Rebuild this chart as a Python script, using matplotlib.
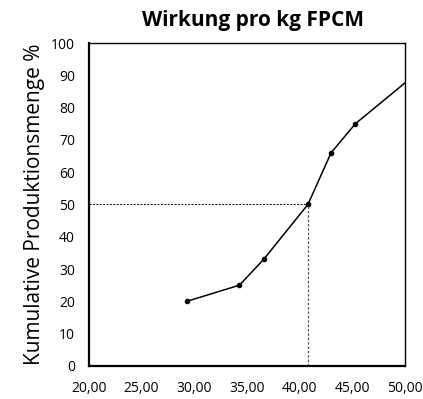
import matplotlib.pyplot as plt

# data
wirkung = [29.3, 34.3, 36.6, 40.8, 43.0, 45.3, 52.0]
kum_menge = [20, 25, 33, 50, 66, 75, 93]
median_x = 40.8
median_y = 50

x_ticks = [20, 25, 30, 35, 40, 45, 50]
y_ticks = [0, 10, 20, 30, 40, 50, 60, 70, 80, 90, 100]

plt.rcParams['font.family'] = ['Open Sans', 'DejaVu Sans']

fig = plt.figure(figsize=(4.23, 3.99), dpi=100)
ax = fig.add_axes([0.210, 0.083, 0.747, 0.809])

ax.plot(wirkung, kum_menge, color='black', linewidth=1.1, marker='o', markersize=3)

# Median guide lines
ax.plot([20, median_x], [median_y, median_y], color='black', linestyle=(0, (2, 1.5)), linewidth=0.7)
ax.plot([median_x, median_x], [0, median_y], color='#555555', linestyle=(0, (2, 1.5)), linewidth=0.9)

ax.set_xlim(20, 50)
ax.set_ylim(0, 100)
ax.set_xticks(x_ticks)
ax.set_xticklabels([f'{v:.2f}'.replace('.', ',') for v in x_ticks])
ax.set_yticks(y_ticks)
ax.tick_params(length=0, labelsize=10)
ax.tick_params(axis='y', pad=10)
ax.tick_params(axis='x', pad=11)

for side in ['top', 'right']:
    ax.spines[side].set_linewidth(1.0)
for side in ['left', 'bottom']:
    ax.spines[side].set_linewidth(1.6)

ax.set_ylabel('Kumulative Produktionsmenge %', fontsize=15, labelpad=4)
ax.set_title('Wirkung pro kg FPCM', fontsize=15, fontweight='bold', pad=12, x=0.52)

fig.savefig('out.png', dpi=100)
